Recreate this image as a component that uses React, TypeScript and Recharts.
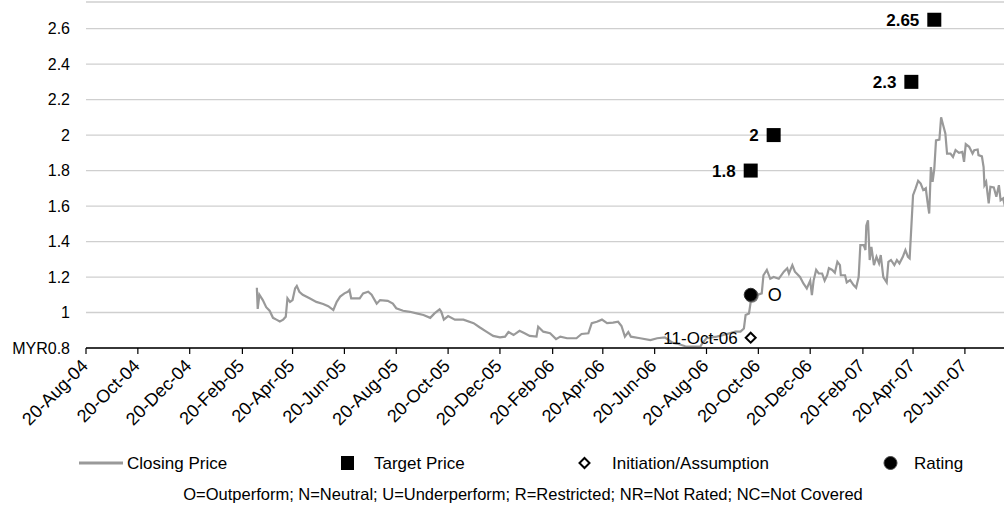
import React from 'react';
import { ComposedChart, Line, Scatter, XAxis, YAxis, CartesianGrid } from 'recharts';

const FONT = "'Liberation Sans', Arial, sans-serif";
const START = Date.UTC(2004, 7, 20);
const DAY = 86400000;
const toDay = (iso: string) => Math.round((Date.parse(iso + 'T00:00:00Z') - START) / DAY);

const tickDates = [
  '2004-08-20', '2004-10-20', '2004-12-20', '2005-02-20', '2005-04-20', '2005-06-20',
  '2005-08-20', '2005-10-20', '2005-12-20', '2006-02-20', '2006-04-20', '2006-06-20',
  '2006-08-20', '2006-10-20', '2006-12-20', '2007-02-20', '2007-04-20', '2007-06-20',
];
const tickLabels = [
  '20-Aug-04', '20-Oct-04', '20-Dec-04', '20-Feb-05', '20-Apr-05', '20-Jun-05',
  '20-Aug-05', '20-Oct-05', '20-Dec-05', '20-Feb-06', '20-Apr-06', '20-Jun-06',
  '20-Aug-06', '20-Oct-06', '20-Dec-06', '20-Feb-07', '20-Apr-07', '20-Jun-07',
];
const axisEndDate = '2007-08-05';
const yTicks = [0.8, 1, 1.2, 1.4, 1.6, 1.8, 2, 2.2, 2.4, 2.6];
const yMax = 2.75;

// closing price: days since 20-Aug-04, price in MYR
const priceDays = [
  201, 202, 204, 208, 212, 216, 220, 224, 228, 232, 235, 237, 240, 243, 246, 248, 251, 255, 263, 271,
  279, 285, 291, 295, 299, 304, 308, 310, 312, 322, 326, 332, 336, 342, 346, 355, 361, 365, 373, 381,
  389, 397, 405, 410, 416, 418, 421, 426, 434, 444, 456, 463, 471, 479, 487, 493, 497, 503, 510, 516,
  522, 530, 532, 538, 546, 553, 558, 566, 577, 583, 591, 595, 601, 607, 613, 620, 626, 630, 634, 638,
  641, 652, 664, 672, 681, 690, 695, 705, 714, 723, 725, 730, 742, 750, 764, 770, 774, 776, 780, 782,
  784, 789, 795, 797, 801, 805, 809, 815, 821, 825, 827, 831, 834, 840, 844, 848, 852, 854, 856, 859,
  862, 866, 869, 872, 874, 878, 881, 884, 887, 888, 893, 895, 899, 903, 906, 909, 911, 915, 917, 918,
  920, 922, 924, 927, 930, 933, 935, 938, 942, 944, 947, 951, 954, 957, 961, 964, 967, 969, 971, 973,
  976, 979, 982, 985, 988, 990, 992, 994, 996, 998, 1000, 1004, 1006, 1009, 1011, 1013, 1017, 1020, 1023, 1027,
  1031, 1033, 1035, 1039, 1043, 1045, 1049, 1050, 1054, 1056, 1057, 1059, 1062, 1064, 1068, 1071, 1074, 1076, 1079, 1081,
];
const priceValues = [
  1.14, 1.02, 1.10, 1.07, 1.03, 1.01, 0.97, 0.96, 0.95, 0.96, 0.976, 1.08, 1.06, 1.07, 1.136, 1.15, 1.117, 1.10, 1.08, 1.06,
  1.048, 1.036, 1.014, 1.06, 1.09, 1.108, 1.117, 1.127, 1.08, 1.08, 1.108, 1.117, 1.10, 1.05, 1.07, 1.066, 1.05, 1.024, 1.01, 1.004,
  0.995, 0.986, 0.97, 0.995, 1.018, 1.004, 0.96, 0.98, 0.96, 0.96, 0.94, 0.917, 0.892, 0.868, 0.86, 0.864, 0.89, 0.873, 0.897, 0.883,
  0.868, 0.864, 0.92, 0.892, 0.883, 0.85, 0.864, 0.855, 0.855, 0.879, 0.883, 0.94, 0.948, 0.96, 0.94, 0.943, 0.948, 0.924, 0.864, 0.89,
  0.864, 0.855, 0.845, 0.855, 0.86, 0.83, 0.825, 0.81, 0.808, 0.81, 0.826, 0.855, 0.864, 0.873, 0.892, 0.892, 0.91, 0.986, 0.995, 1.06,
  1.098, 1.098, 1.108, 1.21, 1.24, 1.19, 1.2, 1.19, 1.23, 1.249, 1.22, 1.267, 1.23, 1.2, 1.164, 1.136, 1.18, 1.098, 1.18, 1.24,
  1.22, 1.22, 1.18, 1.21, 1.25, 1.24, 1.224, 1.286, 1.267, 1.21, 1.21, 1.17, 1.183, 1.155, 1.14, 1.2, 1.38, 1.38, 1.352, 1.49,
  1.52, 1.296, 1.37, 1.267, 1.314, 1.277, 1.324, 1.2, 1.17, 1.286, 1.296, 1.267, 1.296, 1.277, 1.314, 1.352, 1.314, 1.305, 1.483, 1.661,
  1.70, 1.742, 1.727, 1.69, 1.70, 1.624, 1.558, 1.82, 1.736, 1.81, 1.97, 1.975, 2.10, 2.046, 2.009, 1.896, 1.896, 1.877, 1.915, 1.90,
  1.905, 1.849, 1.949, 1.934, 1.896, 1.915, 1.919, 1.887, 1.88, 1.82, 1.718, 1.736, 1.615, 1.708, 1.705, 1.652, 1.718, 1.633, 1.643, 1.60,
];

const targetDates = ['2006-10-11', '2006-11-07', '2007-04-18', '2007-05-15'];
const targetValues = [1.8, 2, 2.3, 2.65];
const targetLabels = ['1.8', '2', '2.3', '2.65'];

const initiationDates = ['2006-10-11'];
const initiationValues = [0.858];
const initiationLabels = ['11-Oct-06'];

const ratingDates = ['2006-10-11'];
const ratingValues = [1.1];
const ratingLabels = ['O'];

const legendNames = ['Closing Price', 'Target Price', 'Initiation/Assumption', 'Rating'];
const footnote = 'O=Outperform; N=Neutral; U=Underperform; R=Restricted; NR=Not Rated; NC=Not Covered';

const tickDays = tickDates.map(toDay);
const priceData = priceDays.map((d, i) => ({ day: d, price: priceValues[i] }));
const targetData = targetDates.map((d, i) => ({ day: toDay(d), target: targetValues[i], label: targetLabels[i] }));
const initiationData = initiationDates.map((d, i) => ({ day: toDay(d), init: initiationValues[i], label: initiationLabels[i] }));
const ratingData = ratingDates.map((d, i) => ({ day: toDay(d), rating: ratingValues[i], label: ratingLabels[i] }));

const LINE_COLOR = '#999999';

const XTick = (props: any) => {
  const { x, y, payload } = props;
  const idx = tickDays.indexOf(payload.value);
  const ax = x + 3;
  const ay = y + 11;
  return (
    <text x={ax} y={ay} transform={`rotate(-45 ${ax} ${ay})`} textAnchor="end" fontSize={18} fill="#000" fontFamily={FONT}>
      {idx >= 0 ? tickLabels[idx] : ''}
    </text>
  );
};

const YTick = (props: any) => {
  const { x, y, payload } = props;
  const v = payload.value;
  const s = v === 0.8 ? 'MYR0.8' : String(v);
  return (
    <text x={x} y={y} dy="0.35em" textAnchor="end" fontSize={16} fill="#000" fontFamily={FONT}>{s}</text>
  );
};

const TargetShape = (props: any) => {
  const { cx, cy, payload } = props;
  if (cx == null || cy == null) return null;
  return (
    <g>
      <rect x={cx - 7} y={cy - 7} width={14} height={14} fill="#000" />
      <text x={cx - 15} y={cy} dy="0.35em" textAnchor="end" fontSize={17} fontWeight="bold" fill="#000" fontFamily={FONT}>{payload.label}</text>
    </g>
  );
};

const InitShape = (props: any) => {
  const { cx, cy, payload } = props;
  if (cx == null || cy == null) return null;
  return (
    <g>
      <text x={cx - 13} y={cy} dy="0.35em" textAnchor="end" fontSize={17} fill="#000" fontFamily={FONT}>{payload.label}</text>
      <polygon points={`${cx},${cy - 5} ${cx + 5},${cy} ${cx},${cy + 5} ${cx - 5},${cy}`} fill="#fff" stroke="#000" strokeWidth={2} />
    </g>
  );
};

const RatingShape = (props: any) => {
  const { cx, cy, payload } = props;
  if (cx == null || cy == null) return null;
  return (
    <g>
      <circle cx={cx + 1} cy={cy + 1} r={7} fill="#777" />
      <circle cx={cx} cy={cy} r={6.5} fill="#000" stroke="#333" strokeWidth={1} />
      <text x={cx + 17} y={cy} dy="0.35em" textAnchor="start" fontSize={18} fill="#000" fontFamily={FONT}>{payload.label}</text>
    </g>
  );
};

export default function App() {
  return (
    <div style={{ position: 'absolute', left: 0, top: 0, width: 1004, height: 508, background: '#fff', fontFamily: FONT, overflow: 'hidden' }}>
      <ComposedChart width={1004} height={440} margin={{ top: 2, right: 0, bottom: 0, left: 0 }}>
        <CartesianGrid horizontal vertical={false} stroke="#cfcfcf" strokeWidth={1.3} />
        <XAxis
          type="number"
          dataKey="day"
          domain={[0, toDay(axisEndDate)]}
          ticks={tickDays}
          interval={0}
          allowDataOverflow
          height={92}
          axisLine={{ stroke: '#000', strokeWidth: 1.5 }}
          tickLine={{ stroke: '#000', strokeWidth: 1.2 }}
          tickSize={6}
          tick={<XTick />}
        />
        <YAxis
          type="number"
          domain={[0.8, yMax]}
          ticks={yTicks}
          interval={0}
          allowDataOverflow
          width={86}
          axisLine={false}
          tickLine={false}
          tickMargin={10}
          tick={<YTick />}
        />
        <Line data={priceData} dataKey="price" stroke={LINE_COLOR} strokeWidth={2.2} dot={false} activeDot={false} isAnimationActive={false} />
        <Scatter data={ratingData} dataKey="rating" shape={<RatingShape />} isAnimationActive={false} />
        <Scatter data={initiationData} dataKey="init" shape={<InitShape />} isAnimationActive={false} />
        <Scatter data={targetData} dataKey="target" shape={<TargetShape />} isAnimationActive={false} />
      </ComposedChart>
      <svg width={1004} height={68} style={{ position: 'absolute', left: 0, top: 440 }}>
        <line x1={79} y1={23} x2={123} y2={23} stroke={LINE_COLOR} strokeWidth={3} />
        <text x={127} y={23} dy="0.35em" fontSize={17} fill="#000" fontFamily={FONT}>{legendNames[0]}</text>
        <rect x={341} y={16} width={13} height={14} fill="#000" />
        <text x={374} y={23} dy="0.35em" fontSize={17} fill="#000" fontFamily={FONT}>{legendNames[1]}</text>
        <polygon points="584.5,18 589.5,23 584.5,28 579.5,23" fill="#fff" stroke="#000" strokeWidth={2} />
        <text x={612} y={23} dy="0.35em" fontSize={17} fill="#000" fontFamily={FONT}>{legendNames[2]}</text>
        <circle cx={890.5} cy={23} r={6.5} fill="#000" stroke="#444" strokeWidth={1} />
        <text x={914} y={23} dy="0.35em" fontSize={17} fill="#000" fontFamily={FONT}>{legendNames[3]}</text>
        <text x={523} y={54} dy="0.35em" textAnchor="middle" fontSize={16.5} fill="#000" fontFamily={FONT}>{footnote}</text>
      </svg>
    </div>
  );
}
